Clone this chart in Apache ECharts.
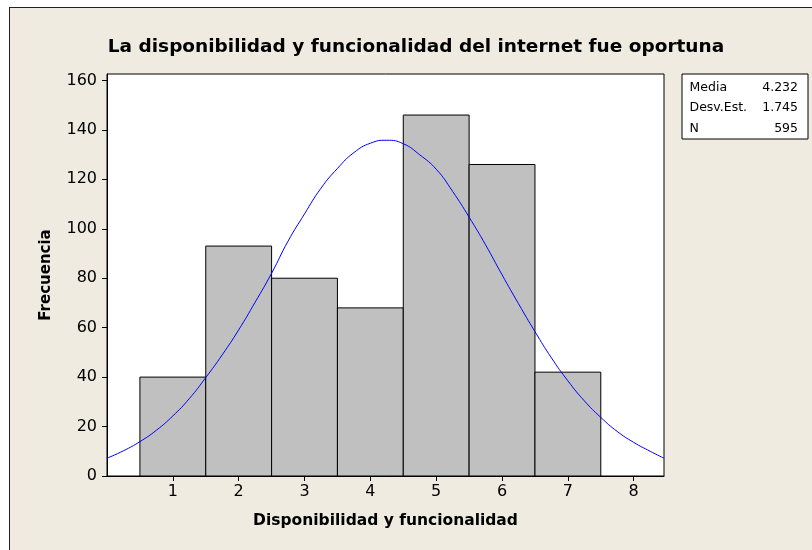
<!DOCTYPE html>
<html>
<head>
<meta charset="utf-8">
<script src="https://cdn.jsdelivr.net/npm/echarts@6/dist/echarts.min.js"></script>
<style>
  html, body { margin: 0; padding: 0; background: #fff; }
  .page { position: relative; width: 812px; height: 550px; overflow: hidden; background: #fff; }
  .hist-chart {
    position: absolute; left: 9px; top: 7px;
    width: 802px; height: 542px;
    border-left: 1px solid #222; border-top: 1px solid #222;
    background: #efebe1;
  }
</style>
</head>
<body>
<div class="page"><div class="hist-chart" id="chart"></div></div>
<script>
// histogram bins (center value, frequency)
const binCenters = [1, 2, 3, 4, 5, 6, 7];
const frequencies = [40, 93, 80, 68, 146, 126, 42];

// fitted normal curve, every 0.25
const curveX = [0, 0.25, 0.5, 0.75, 1, 1.25, 1.5, 1.75, 2, 2.25, 2.5, 2.75, 3, 3.25, 3.5, 3.75, 4, 4.25,
  4.5, 4.75, 5, 5.25, 5.5, 5.75, 6, 6.25, 6.5, 6.75, 7, 7.25, 7.5, 7.75, 8, 8.25, 8.46];
const curveY = [7.2, 10.2, 13.9, 18.5, 24.3, 31.3, 39.8, 49, 59.1, 70.3, 82, 95, 106, 116.4, 124.4, 130.8, 134.6, 135.8,
  134.4, 129.9, 124.1, 115.1, 104.7, 93.5, 81.4, 69.7, 58.4, 47.8, 38.5, 30.4, 23.7, 18, 13.6, 10, 7.2];

const xTicks = [1, 2, 3, 4, 5, 6, 7, 8];
const yTicks = [0, 20, 40, 60, 80, 100, 120, 140, 160];

const statLabels = ['Media', 'Desv.Est.', 'N'];
const statValues = ['4.232', '1.745', '595'];

const chart = echarts.init(document.getElementById('chart'));
const FONT = "'DejaVu Sans', Verdana, sans-serif";

// legend box with the fit statistics
const statTexts = [];
statLabels.forEach((label, i) => {
  statTexts.push({
    type: 'text', x: 7.5, y: 13.5 + i * 20.5,
    style: { text: label, font: '12.5px ' + FONT, fill: '#000', verticalAlign: 'middle' }
  });
  statTexts.push({
    type: 'text', x: 116, y: 13.5 + i * 20.5,
    style: { text: statValues[i], font: '12.5px ' + FONT, fill: '#000', align: 'right', verticalAlign: 'middle' }
  });
});

const option = {
  animation: false,
  title: {
    text: 'La disponibilidad y funcionalidad del internet fue oportuna',
    left: 401,
    top: 25,
    textAlign: 'center',
    textStyle: { fontFamily: FONT, fontSize: 18.5, fontWeight: 'bold', color: '#000' }
  },
  grid: {
    left: 97, right: 148, top: 66, bottom: 74,
    show: true, backgroundColor: '#fff', borderColor: '#000', borderWidth: 1
  },
  xAxis: {
    type: 'value',
    min: 0, max: 8.46, interval: 1,
    name: 'Disponibilidad y funcionalidad',
    nameLocation: 'middle',
    nameGap: 37,
    nameTextStyle: { fontFamily: FONT, fontSize: 15.5, fontWeight: 'bold', color: '#000' },
    axisLine: { onZero: false, lineStyle: { color: '#000', width: 1 } },
    axisTick: { show: true, length: 5, customValues: xTicks, lineStyle: { color: '#000' } },
    axisLabel: { customValues: xTicks, margin: 8, fontFamily: FONT, fontSize: 16, color: '#000' },
    splitLine: { show: false }
  },
  yAxis: {
    type: 'value',
    min: 0, max: 162.6, interval: 20,
    name: 'Frecuencia',
    nameLocation: 'middle',
    nameGap: 53,
    nameRotate: 90,
    nameTextStyle: { fontFamily: FONT, fontSize: 15, fontWeight: 'bold', color: '#000' },
    axisLine: { show: true, lineStyle: { color: '#000', width: 1 } },
    axisTick: { show: true, length: 5, customValues: yTicks, lineStyle: { color: '#000' } },
    axisLabel: { customValues: yTicks, margin: 10, fontFamily: FONT, fontSize: 16, color: '#000' },
    splitLine: { show: false }
  },
  series: [
    {
      type: 'custom',
      data: binCenters.map((c, i) => [c, frequencies[i]]),
      renderItem: function (params, api) {
        const c = api.value(0);
        const f = api.value(1);
        const p0 = api.coord([c - 0.5, f]);
        const p1 = api.coord([c + 0.5, 0]);
        return {
          type: 'rect',
          shape: { x: p0[0], y: p0[1], width: p1[0] - p0[0], height: p1[1] - p0[1] },
          style: { fill: '#c0c0c0', stroke: '#000', lineWidth: 1 }
        };
      },
      z: 2
    },
    {
      type: 'line',
      data: curveX.map((x, i) => [x, curveY[i]]),
      smooth: true,
      showSymbol: false,
      lineStyle: { color: '#0000ff', width: 1 },
      z: 3
    }
  ],
  graphic: [
    {
      type: 'group', x: 672, y: 66,
      children: [
        { type: 'rect', shape: { x: 0, y: 0, width: 126, height: 65 },
          style: { fill: '#fff', stroke: '#000', lineWidth: 1 } }
      ].concat(statTexts)
    }
  ]
};

chart.setOption(option);
</script>
</body>
</html>
